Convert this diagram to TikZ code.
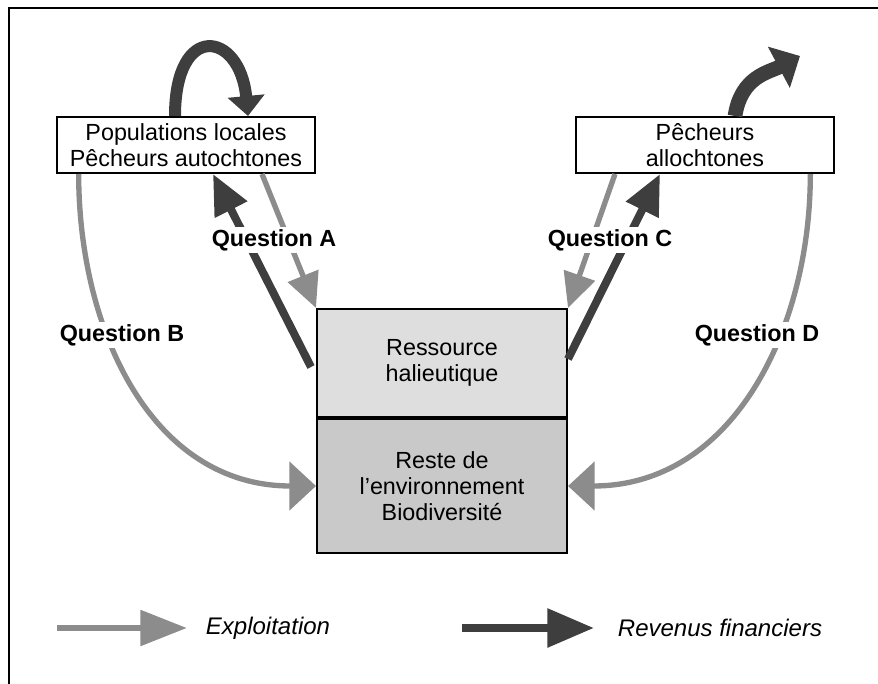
\documentclass[tikz,border=0pt]{standalone}
\usepackage{fontspec}
\setmainfont{Liberation Sans}
\usetikzlibrary{arrows.meta, positioning, calc}
\definecolor{exgray}{HTML}{8C8C8C}
\definecolor{revdark}{HTML}{3E3E3E}
\definecolor{ressfill}{HTML}{DEDEDE}
\definecolor{restefill}{HTML}{C9C9C9}

\begin{document}
\begin{tikzpicture}[x=0.75pt, y=-0.75pt,
    box/.style={draw, line width=1.5pt, align=center, inner sep=0pt, font=\fontsize{17.5}{19.5}\selectfont},
    actor/.style={box, minimum width=194pt, minimum height=42pt},
    milieu/.style={box, minimum width=187.5pt},
    expl/.style={exgray, line width=4pt, -{Triangle[width=24pt,length=26pt]}},
    rev/.style={revdark, line width=6pt, -{Triangle[width=26pt,length=30pt]}},
    quest/.style={fill=white, inner sep=2pt, font=\bfseries\fontsize{17.5}{19}\selectfont},
    legende/.style={font=\itshape\fontsize{18}{19}\selectfont}]

    \useasboundingbox (0,0) rectangle (878,684);
    \draw[line width=2.2pt] (9,684) -- (9,8) -- (878,8);

      \node[actor] (autoch) at (186,145) {Populations locales\\Pêcheurs autochtones};
      \node[actor] (alloch) at (705,145) {Pêcheurs\\allochtones};
      \node[milieu, fill=ressfill, minimum height=81pt] (ress) at (442,363) {Ressource\\halieutique};
      \node[milieu, fill=restefill, minimum height=100.5pt] (reste) [below=0pt of ress] {Reste de\\l'environnement\\Biodiversité};

      % revenus gardes sur place / partis ailleurs
      \draw[rev, line width=9pt, -{Triangle[width=27pt,length=15pt]}] ($(autoch.north)+(-11,0)$)
          .. controls +(0,-95) and +(-8,-85) .. ($(autoch.north)+(62,0)$);
      \coordinate (gain) at (800,56);
      \draw[rev, line width=11pt, -{Triangle[width=34pt,length=18pt]}] ($(alloch.north)+(30,0)$)
          .. controls +(6,-40) and +(-30,16) .. (gain);

      % question A et C
      \draw[rev] ($(ress.north west)+(-5,59)$) -- ($(autoch.south)+(27,0)$);
      \draw[expl] ($(autoch.south)+(76,0)$) -- (ress.north west);
      \draw[expl] ($(alloch.south)+(-90,0)$) -- (ress.north east);
      \draw[rev] ($(ress.north east)+(0,51)$) -- ($(alloch.south)+(-45,0)$);

      % question B et D
      \draw[expl, -{Triangle[width=36pt,length=20pt]}] ($(autoch.south west)+(23,0)$)
          .. controls +(0,155) and +(-165,0) .. (reste.west);
      \draw[expl, -{Triangle[width=36pt,length=20pt]}] ($(alloch.south east)+(-25,0)$)
          .. controls +(0,155) and +(165,0) .. (reste.east);

      \node[quest] (qa) at (274,240) {Question A};
      \node[quest] (qc) at (610,240) {Question C};
      \node[quest] (qb) at (122,335) {Question B};
      \node[quest] (qd) at (757,335) {Question D};

      % legende
      \coordinate (le1) at (57,628);
      \coordinate (le2) at (187,628);
      \coordinate (lr1) at (462,628);
      \coordinate (lr2) at (594,628);
      \draw[expl, line width=5pt, -{Triangle[width=26pt,length=35pt]}] (le1) -- (le2);
      \draw[rev, -{Triangle[width=28pt,length=35pt]}] (lr1) -- (lr2);
      \node[legende] (lexpl) at (268,628) {Exploitation};
      \node[legende] (lrev) at (720,628) {Revenus financiers};
    \end{tikzpicture}
\end{document}
